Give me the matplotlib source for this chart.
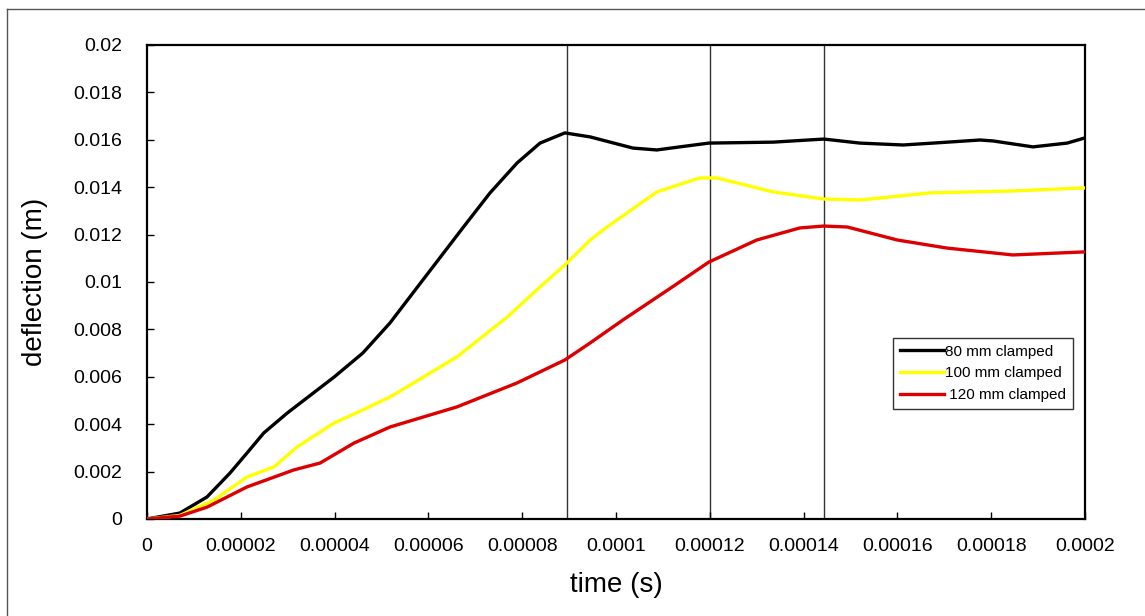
import matplotlib as mpl
mpl.use('Agg')
import matplotlib.pyplot as plt
from matplotlib.lines import Line2D
import numpy as np

plt.rcParams['font.family'] = ['Liberation Sans', 'DejaVu Sans']

# values (time in s, deflection in m)
t80 = [0, 7e-6, 1.28e-5, 1.77e-5, 2.13e-5, 2.49e-5, 2.99e-5, 3.99e-5, 4.6e-5,
       5.18e-5, 5.88e-5, 6.74e-5, 7.31e-5, 7.89e-5, 8.38e-5, 8.91e-5, 9.45e-5,
       1.036e-4, 1.087e-4, 1.136e-4, 1.198e-4, 1.335e-4, 1.443e-4, 1.52e-4,
       1.612e-4, 1.676e-4, 1.776e-4, 1.804e-4, 1.889e-4, 1.962e-4, 2.0e-4]
d80 = [0, 0.00025, 0.00093, 0.00194, 0.00278, 0.00363, 0.00447, 0.00599, 0.0070,
       0.00827, 0.01008, 0.0123, 0.01375, 0.01502, 0.01586, 0.01629, 0.01612,
       0.01565, 0.01557, 0.0157, 0.01586, 0.0159, 0.01603, 0.01586,
       0.01578, 0.01586, 0.01599, 0.01595, 0.0157, 0.01586, 0.01608]

t100 = [0, 7e-6, 1.43e-5, 2.13e-5, 2.71e-5, 3.2e-5, 3.99e-5, 4.6e-5, 5.18e-5,
        5.33e-5, 6.61e-5, 7.68e-5, 8.38e-5, 8.91e-5, 9.45e-5, 9.81e-5, 1.087e-4,
        1.179e-4, 1.215e-4, 1.335e-4, 1.443e-4, 1.52e-4, 1.542e-4, 1.67e-4,
        1.846e-4, 2.0e-4]
d100 = [0, 0.00015, 0.0008, 0.00177, 0.0022, 0.00304, 0.00405, 0.0046, 0.00515,
        0.00532, 0.00684, 0.00852, 0.00979, 0.01072, 0.01177, 0.01232, 0.0138,
        0.01439, 0.01439, 0.0138, 0.0135, 0.01346, 0.0135, 0.01376,
        0.01384, 0.01397]

t120 = [0, 7e-6, 1.28e-5, 2.13e-5, 3.13e-5, 3.69e-5, 4.41e-5, 5.18e-5, 5.33e-5,
        6.61e-5, 7.89e-5, 8.91e-5, 9.45e-5, 1.015e-4, 1.12e-4, 1.198e-4, 1.3e-4,
        1.392e-4, 1.443e-4, 1.493e-4, 1.6e-4, 1.706e-4, 1.846e-4, 2.0e-4]
d120 = [0, 0.00012, 0.0005, 0.00135, 0.00207, 0.00236, 0.0032, 0.00388, 0.00397,
        0.00473, 0.00574, 0.00671, 0.00743, 0.0084, 0.00979, 0.01084, 0.01177,
        0.01228, 0.01236, 0.01232, 0.01177, 0.01143, 0.01114, 0.01127]

vlines = [8.95e-5, 1.2e-4, 1.443e-4]

xticks = [0, 2e-5, 4e-5, 6e-5, 8e-5, 1e-4, 1.2e-4, 1.4e-4, 1.6e-4, 1.8e-4, 2e-4]
xlabels = ['0', '0.00002', '0.00004', '0.00006', '0.00008', '0.0001',
           '0.00012', '0.00014', '0.00016', '0.00018', '0.0002']
yticks = [0, 0.002, 0.004, 0.006, 0.008, 0.01, 0.012, 0.014, 0.016, 0.018, 0.02]
ylabels = ['0', '0.002', '0.004', '0.006', '0.008', '0.01', '0.012', '0.014',
           '0.016', '0.018', '0.02']

fig = plt.figure(figsize=(11.45, 6.16), dpi=100)
ax = fig.add_axes([0.1284, 0.1575, 0.8192, 0.7695])

for v in vlines:
    ax.axvline(v, color='#333333', lw=1.0, zorder=1)

ax.plot(t80, d80, color='black', lw=2.4, label='80 mm clamped', zorder=3)
ax.plot(t100, d100, color='#ffff00', lw=2.4, label='100 mm clamped', zorder=3)
ax.plot(t120, d120, color='#dd0000', lw=2.4, label=' 120 mm clamped', zorder=3)

ax.set_xlim(0, 2e-4)
ax.set_ylim(0, 0.02)
ax.set_xticks(xticks)
ax.set_xticklabels(xlabels)
ax.set_yticks(yticks)
ax.set_yticklabels(ylabels)
ax.tick_params(direction='in', length=5, width=1, labelsize=14)
ax.tick_params(axis='x', pad=14)
ax.tick_params(axis='y', pad=18)
for s in ax.spines.values():
    s.set_linewidth(1.6)

ax.set_xlabel('time (s)', fontsize=20, labelpad=12)
ax.set_ylabel('deflection (m)', fontsize=20, labelpad=18)

leg = ax.legend(loc='upper left', bbox_to_anchor=(0.795, 0.382), fontsize=11,
                frameon=True, fancybox=False, edgecolor='black',
                handlelength=2.9, handletextpad=0.1, borderpad=0.45,
                labelspacing=0.5, borderaxespad=0)
leg.get_frame().set_linewidth(1.0)

# outer frame of the original figure
fig.add_artist(Line2D([7 / 1145, 7 / 1145], [0, 1 - 9 / 616], color='#555555', lw=1))
fig.add_artist(Line2D([7 / 1145, 1], [1 - 9 / 616, 1 - 9 / 616], color='#555555', lw=1))

plt.savefig('out.png', dpi=100)
